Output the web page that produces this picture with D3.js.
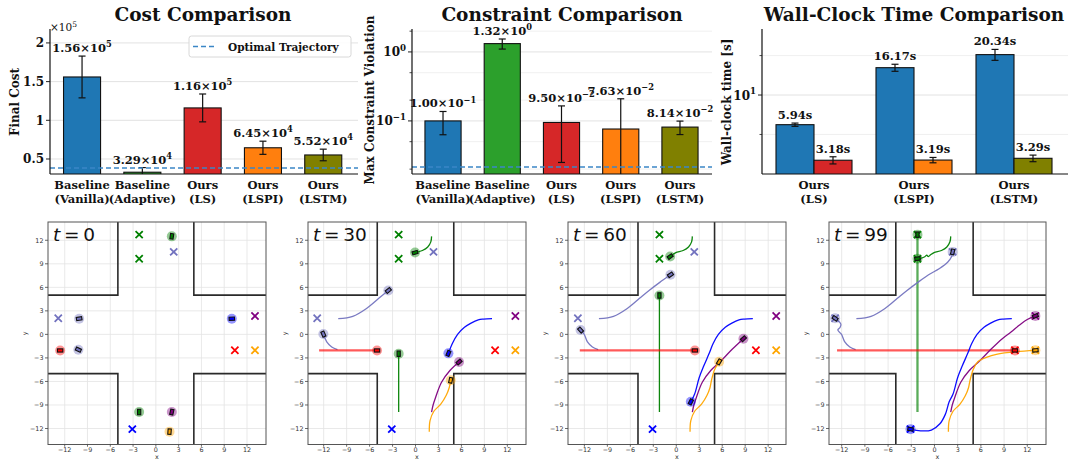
<!DOCTYPE html>
<html><head><meta charset="utf-8">
<script src="https://cdn.jsdelivr.net/npm/d3@7"></script>
<style>body{margin:0;background:#fff}svg{display:block}</style>
</head><body>
<svg id="fig" width="1070" height="461"></svg>
<script>
// ---------------- data ----------------
const methodLabels = [["Baseline","(Vanilla)"],["Baseline","(Adaptive)"],["Ours","(LS)"],["Ours","(LSPI)"],["Ours","(LSTM)"]];
const costValues = [1.56e5, 3.29e4, 1.16e5, 6.45e4, 5.52e4];
const costErrors = [2.7e4, 6.0e3, 1.8e4, 8.5e3, 7.5e3];
const costOptimal = 3.85e4;
const costTicks = [5e4, 1e5, 1.5e5, 2e5];
const costTickLabels = ["0.5", "1", "1.5", "2"];

const violationValues = [1.00e-1, 1.32e0, 9.50e-2, 7.63e-2, 8.14e-2];
const violationErrors = [0.037, 0.22, 0.07, 0.133, 0.018];
const violationOptimal = 0.0215;
const violationMajorTicks = [0.1, 1];
const violationMinorTicks = [0.02, 0.05, 0.2, 0.5, 2];

const timeGroups = [["Ours","(LS)"],["Ours","(LSPI)"],["Ours","(LSTM)"]];
const timeFull = [5.94, 16.17, 20.34];
const timeFullErr = [0.17, 1.0, 1.95];
const timeFast = [3.18, 3.19, 3.29];
const timeFastErr = [0.2, 0.15, 0.19];
const timeMajorTicks = [10];
const timeMinorTicks = [5, 20];

const methodColors = ["#1f77b4", "#2ca02c", "#d62728", "#ff7f0e", "#808000"];
const fastColors = ["#d62728", "#ff7f0e", "#808000"];

// intersection scenario
const snapshotTimes = [0, 30, 60, 99];
const laneWalls = [
  [[-16, 5], [-5, 5], [-5, 16]],
  [[16, 5], [5, 5], [5, 16]],
  [[-16, -5], [-5, -5], [-5, -16]],
  [[16, -5], [5, -5], [5, -16]]
];
const gridTicks = [-12, -9, -6, -3, 0, 3, 6, 9, 12];
const agentGoals = [[-2.2, 9.65], [-2.2, 12.72], [2.35, 10.52], [-12.85, 2.05],
                    [10.4, -2.03], [-3.1, -12.08], [13.05, 2.35], [13.05, -2.03]];
const agentPaths = [
  [[2.1,12.5],[2.0,11.8],[1.6,11.15],[0.9,10.7],[-0.06,10.43],[-0.5,10.15],[-0.8,9.92],[-1.0,10.1],[-1.25,9.9],[-1.7,9.72],[-2.2,9.65]],
  [[-2.2,-9.9],[-2.2,-2.46],[-2.2,4.96],[-2.2,12.72]],
  [[-10.1,2.0],[-8.2,2.3],[-6.4,3.3],[-4.8,4.6],[-3.55,5.6],[-2.2,6.6],[-0.76,7.6],[0.65,8.4],[1.7,9.2],[2.2,9.9],[2.35,10.52]],
  [[-10.2,-1.95],[-10.95,-1.6],[-11.6,-0.95],[-12.04,0.04],[-12.5,0.55],[-12.2,0.9],[-12.1,1.3],[-12.5,1.8],[-12.85,2.05]],
  [[-12.6,-2.05],[-5.03,-2.05],[2.43,-2.05],[10.4,-2.05]],
  [[10.0,2.0],[8.9,1.95],[8.2,1.85],[7.2,1.4],[6.4,0.9],[5.5,0.0],[4.8,-1.2],[4.3,-2.42],[3.6,-4.0],[3.0,-5.5],[2.4,-7.6],[1.9,-8.6],[1.4,-10.2],[0.7,-11.4],[-0.4,-12.2],[-1.8,-12.3],[-3.1,-12.08]],
  [[2.1,-9.9],[2.3,-9.0],[2.6,-8.1],[3.4,-6.1],[4.5,-4.6],[5.69,-3.52],[7.3,-1.9],[8.77,-0.55],[9.9,0.3],[11.0,1.2],[12.0,1.9],[13.05,2.35]],
  [[1.8,-12.4],[1.9,-11.0],[2.4,-9.8],[3.3,-8.9],[4.0,-7.8],[4.4,-6.8],[4.6,-5.85],[5.0,-4.5],[5.6,-3.5],[6.8,-2.9],[8.0,-2.55],[10.5,-2.2],[13.05,-2.03]]
];
// path index of each agent at each snapshot time
const agentSnapshotIndex = [
  [0, 4, 6, 10], [0, 1, 2, 3], [0, 4, 6, 10], [0, 3, 4, 8],
  [0, 1, 2, 3], [0, 7, 11, 16], [0, 5, 7, 11], [0, 6, 8, 12]
];
const agentColors = ["green", "green", "#7373bf", "#7373bf", "red", "blue", "purple", "orange"];

// ---------------- drawing ----------------
const svg = d3.select("#fig");
const SERIF = "'DejaVu Serif', serif";
const SANS = "'DejaVu Sans', sans-serif";
const MINUS = "\u2212";

function supText(sel, base, exp, size) {
  sel.append("tspan").text(base);
  sel.append("tspan").attr("dy", -size * 0.42).attr("font-size", size * 0.72).text(exp);
}
function sci(v) {
  let e = Math.floor(Math.log10(v) + 1e-9);
  let m = v / Math.pow(10, e);
  if (+m.toFixed(2) >= 10) { e += 1; m = v / Math.pow(10, e); }
  return { m: m.toFixed(2), e: (e < 0 ? MINUS + (-e) : String(e)) };
}

let clipId = 0;
function addClip(box) {
  const id = "clip" + (clipId++);
  svg.append("clipPath").attr("id", id).append("rect")
    .attr("x", box.left).attr("y", box.top)
    .attr("width", box.right - box.left).attr("height", box.bottom - box.top);
  return "url(#" + id + ")";
}

function panelFrame(box, y, major, minor, labelFn) {
  const g = svg.append("g");
  g.selectAll(".gmin").data(minor).join("line")
    .attr("x1", box.left).attr("x2", box.right)
    .attr("y1", d => y(d)).attr("y2", d => y(d))
    .attr("stroke", "#ececec").attr("stroke-width", 0.8);
  g.selectAll(".gmaj").data(major).join("line")
    .attr("x1", box.left).attr("x2", box.right)
    .attr("y1", d => y(d)).attr("y2", d => y(d))
    .attr("stroke", "#e2e2e2").attr("stroke-width", 1);
  g.selectAll(".tmaj").data(major).join("line")
    .attr("x1", box.left - 4).attr("x2", box.left)
    .attr("y1", d => y(d)).attr("y2", d => y(d)).attr("stroke", "#222").attr("stroke-width", 1);
  g.selectAll(".tmin").data(minor).join("line")
    .attr("x1", box.left - 2.5).attr("x2", box.left)
    .attr("y1", d => y(d)).attr("y2", d => y(d)).attr("stroke", "#222").attr("stroke-width", 0.8);
  major.forEach((d, i) => {
    const t = g.append("text").attr("x", box.left - 6).attr("y", y(d) + 4.5)
      .attr("text-anchor", "end").attr("font-family", SERIF).attr("font-weight", "bold")
      .attr("font-size", 12).attr("fill", "#111");
    labelFn(t, d, i);
  });
  return g;
}

function spines(box) {
  svg.append("line").attr("x1", box.left).attr("x2", box.left).attr("y1", box.top).attr("y2", box.bottom)
    .attr("stroke", "#111").attr("stroke-width", 1.2);
  svg.append("line").attr("x1", box.left).attr("x2", box.right).attr("y1", box.bottom).attr("y2", box.bottom)
    .attr("stroke", "#111").attr("stroke-width", 1.2);
}

function titleText(x, text) {
  svg.append("text").attr("x", x).attr("y", 21).attr("text-anchor", "middle")
    .attr("font-family", SERIF).attr("font-weight", "bold").attr("font-size", 18.5)
    .attr("fill", "#111").text(text);
}
function yLabel(x, yc, text) {
  svg.append("text").attr("transform", `translate(${x},${yc}) rotate(-90)`)
    .attr("text-anchor", "middle").attr("font-family", SERIF).attr("font-weight", "bold")
    .attr("font-size", 12).attr("fill", "#111").text(text);
}
function catLabels(centers, labels, box) {
  labels.forEach((lines, i) => {
    const t = svg.append("text").attr("text-anchor", "middle").attr("font-family", SERIF)
      .attr("font-weight", "bold").attr("font-size", 11.5).attr("fill", "#111");
    t.append("tspan").attr("x", centers[i]).attr("y", box.bottom + 15).text(lines[0]);
    t.append("tspan").attr("x", centers[i]).attr("y", box.bottom + 29).text(lines[1]);
  });
}
function bars(g, xs, w, y, values, colors, box) {
  g.selectAll(null).data(values).join("rect")
    .attr("x", (d, i) => xs[i]).attr("width", w)
    .attr("y", d => y(d)).attr("height", d => Math.max(0, box.bottom + 2 - y(d)))
    .attr("fill", (d, i) => colors[i]).attr("stroke", "#111").attr("stroke-width", 1.1);
}
function errBars(g, cx, y, values, errs, box) {
  values.forEach((v, i) => {
    const lo = v - errs[i] > 0 ? y(v - errs[i]) : box.bottom + 5;
    const hi = y(v + errs[i]);
    g.append("line").attr("x1", cx[i]).attr("x2", cx[i]).attr("y1", lo).attr("y2", hi)
      .attr("stroke", "#111").attr("stroke-width", 1.2);
    [lo, hi].forEach(yy => g.append("line").attr("x1", cx[i] - 3.5).attr("x2", cx[i] + 3.5)
      .attr("y1", yy).attr("y2", yy).attr("stroke", "#111").attr("stroke-width", 1.2));
  });
}
function valueLabel(x, yTop, fill) {
  const t = svg.append("text").attr("x", x).attr("y", yTop - 4).attr("text-anchor", "middle")
    .attr("font-family", SERIF).attr("font-weight", "bold").attr("font-size", 11.5).attr("fill", "#111");
  fill(t);
}

// ---- Panel 1: cost ----
{
  const box = { left: 50, right: 358, top: 29, bottom: 174 };
  const x = d3.scaleBand().domain(d3.range(costValues.length)).range([51.9, 353.4])
    .paddingInner(0.386).paddingOuter(0.193);
  const y = d3.scaleLinear().domain([30600, 218000]).range([box.bottom, box.top]);
  panelFrame(box, y, costTicks, [], (t, d, i) => t.text(costTickLabels[i]));
  const clip = addClip(box);
  const g = svg.append("g").attr("clip-path", clip);
  const xs = costValues.map((d, i) => x(i));
  const cx = xs.map(v => v + x.bandwidth() / 2);
  bars(g, xs, x.bandwidth(), y, costValues, methodColors, box);
  errBars(g, cx, y, costValues, costErrors, box);
  g.append("line").attr("x1", box.left).attr("x2", box.right)
    .attr("y1", y(costOptimal)).attr("y2", y(costOptimal))
    .attr("stroke", "#3b86c6").attr("stroke-width", 1.5).attr("stroke-dasharray", "5,3");
  spines(box);
  costValues.forEach((v, i) => {
    const s = sci(v);
    valueLabel(cx[i], y(v + costErrors[i]), t => supText(t, s.m + "×10", s.e, 11.5));
  });
  const off = svg.append("text").attr("x", 50).attr("y", 31).attr("font-family", SERIF)
    .attr("font-size", 10.5).attr("fill", "#111");
  supText(off, "×10", "5", 10.5);
  const lg = svg.append("g");
  lg.append("rect").attr("x", 189).attr("y", 36).attr("width", 162).attr("height", 21).attr("rx", 2.5)
    .attr("fill", "#fff").attr("fill-opacity", 0.85).attr("stroke", "#d8d8d8");
  lg.append("line").attr("x1", 193).attr("x2", 217).attr("y1", 46.5).attr("y2", 46.5)
    .attr("stroke", "#3b86c6").attr("stroke-width", 1.5).attr("stroke-dasharray", "5,3");
  lg.append("text").attr("x", 228).attr("y", 50.5).attr("font-family", SERIF).attr("font-weight", "bold")
    .attr("font-size", 10.5).attr("fill", "#111").text("Optimal Trajectory");
  catLabels(cx, methodLabels, box);
  titleText(203, "Cost Comparison");
  yLabel(19, 102, "Final Cost");
}

// ---- Panel 2: constraint violation ----
{
  const box = { left: 412, right: 712, top: 29, bottom: 174 };
  const x = d3.scaleBand().domain(d3.range(violationValues.length)).range([413.4, 709.6])
    .paddingInner(0.39).paddingOuter(0.195);
  const y = d3.scaleLog().domain([0.017, 2.15]).range([box.bottom, box.top]);
  panelFrame(box, y, violationMajorTicks, violationMinorTicks, (t, d) => {
    const e = Math.round(Math.log10(d));
    supText(t, "10", e < 0 ? MINUS + (-e) : String(e), 12);
  });
  const clip = addClip(box);
  const g = svg.append("g").attr("clip-path", clip);
  const xs = violationValues.map((d, i) => x(i));
  const cx = xs.map(v => v + x.bandwidth() / 2);
  bars(g, xs, x.bandwidth(), y, violationValues, methodColors, box);
  errBars(g, cx, y, violationValues, violationErrors, box);
  svg.append("line").attr("x1", box.left).attr("x2", box.right)
    .attr("y1", y(violationOptimal)).attr("y2", y(violationOptimal))
    .attr("stroke", "#3b86c6").attr("stroke-width", 1.5).attr("stroke-dasharray", "5,3");
  spines(box);
  violationValues.forEach((v, i) => {
    const s = sci(v);
    valueLabel(cx[i], y(v + violationErrors[i]), t => supText(t, s.m + "×10", s.e, 11.5));
  });
  catLabels(cx, methodLabels, box);
  titleText(562, "Constraint Comparison");
  yLabel(374, 100, "Max Constraint Violation");
}

// ---- Panel 3: wall-clock time ----
{
  const box = { left: 762, right: 1068, top: 29, bottom: 174 };
  const x = d3.scaleBand().domain(d3.range(timeGroups.length)).range([764, 1064])
    .paddingInner(0.24).paddingOuter(0.12);
  const y = d3.scaleLog().domain([2.497, 31.9]).range([box.bottom, box.top]);
  panelFrame(box, y, timeMajorTicks, timeMinorTicks, (t, d) => {
    supText(t, "10", String(Math.round(Math.log10(d))), 12);
  });
  const clip = addClip(box);
  const g = svg.append("g").attr("clip-path", clip);
  const half = x.bandwidth() / 2;
  const xsFull = timeFull.map((d, i) => x(i));
  const xsFast = timeFast.map((d, i) => x(i) + half);
  const blues = timeFull.map(() => methodColors[0]);
  bars(g, xsFull, half, y, timeFull, blues, box);
  bars(g, xsFast, half, y, timeFast, fastColors, box);
  const cFull = xsFull.map(v => v + half / 2), cFast = xsFast.map(v => v + half / 2);
  errBars(g, cFull, y, timeFull, timeFullErr, box);
  errBars(g, cFast, y, timeFast, timeFastErr, box);
  spines(box);
  timeFull.forEach((v, i) => valueLabel(cFull[i], y(v + timeFullErr[i]), t => t.text(v.toFixed(2) + "s")));
  timeFast.forEach((v, i) => valueLabel(cFast[i], y(v + timeFastErr[i]), t => t.text(v.toFixed(2) + "s")));
  catLabels(timeGroups.map((d, i) => x(i) + half), timeGroups, box);
  titleText(914, "Wall-Clock Time Comparison");
  yLabel(731, 102, "Wall-clock time [s]");
}

// ---- Bottom row: intersection snapshots ----
const snapBoxes = [
  { left: 48, right: 266, xlim: [-14.2, 14.5] },
  { left: 308, right: 526, xlim: [-14.05, 14.44] },
  { left: 568, right: 786, xlim: [-14.14, 14.33] },
  { left: 829, right: 1046, xlim: [-13.64, 14.42] }
];
const snapTop = 222, snapBottom = 444.5;

snapBoxes.forEach((b, k) => {
  const box = { left: b.left, right: b.right, top: snapTop, bottom: snapBottom };
  const x = d3.scaleLinear().domain(b.xlim).range([b.left, b.right]);
  const y = d3.scaleLinear().domain([-14.04, 14.33]).range([snapBottom, snapTop]);
  const clip = addClip(box);
  const g = svg.append("g").attr("clip-path", clip);
  // grid
  g.selectAll(null).data(gridTicks).join("line")
    .attr("x1", d => x(d)).attr("x2", d => x(d)).attr("y1", snapTop).attr("y2", snapBottom)
    .attr("stroke", "#e3e3e3").attr("stroke-width", 0.8);
  g.selectAll(null).data(gridTicks).join("line")
    .attr("y1", d => y(d)).attr("y2", d => y(d)).attr("x1", b.left).attr("x2", b.right)
    .attr("stroke", "#e3e3e3").attr("stroke-width", 0.8);
  // lane boundaries
  const line = d3.line().x(d => x(d[0])).y(d => y(d[1]));
  g.selectAll(null).data(laneWalls).join("path").attr("d", line)
    .attr("fill", "none").attr("stroke", "#2a2a2a").attr("stroke-width", 1.6);
  // driven trails
  const smooth = d3.line().x(d => x(d[0])).y(d => y(d[1])).curve(d3.curveCatmullRom.alpha(0.5));
  if (k > 0) {
    agentPaths.forEach((p, a) => {
      const idx = agentSnapshotIndex[a][k];
      const pts = p.slice(0, idx + 1);
      const wide = agentColors[a] === "red" || (a === 1 && k === snapshotTimes.length - 1);
      g.append("path").attr("d", smooth(pts)).attr("fill", "none")
        .attr("stroke", agentColors[a])
        .attr("stroke-width", wide ? 2.3 : 1.3)
        .attr("stroke-opacity", wide ? 0.65 : 0.95);
    });
  }
  // goals
  agentGoals.forEach((gp, a) => {
    const cx = x(gp[0]), cy = y(gp[1]), s = 3.6;
    g.append("path").attr("d", `M${cx - s},${cy - s}L${cx + s},${cy + s}M${cx - s},${cy + s}L${cx + s},${cy - s}`)
      .attr("stroke", agentColors[a]).attr("stroke-width", 1.8).attr("fill", "none");
  });
  // vehicles
  agentPaths.forEach((p, a) => {
    const idx = agentSnapshotIndex[a][k];
    const cur = p[idx];
    const prev = idx > 0 ? p[idx - 1] : cur;
    const next = idx > 0 ? cur : p[1];
    const ang = Math.atan2(-(next[1] - prev[1]), next[0] - prev[0]) * 180 / Math.PI;
    const cx = x(cur[0]), cy = y(cur[1]);
    g.append("circle").attr("cx", cx).attr("cy", cy).attr("r", 5)
      .attr("fill", agentColors[a]).attr("fill-opacity", 0.42);
    g.append("rect").attr("x", -2.7).attr("y", -1.6).attr("width", 5.4).attr("height", 3.2)
      .attr("transform", `translate(${cx},${cy}) rotate(${ang})`)
      .attr("fill", agentColors[a]).attr("stroke", "#111").attr("stroke-width", 1.1);
  });
  // frame
  svg.append("rect").attr("x", b.left).attr("y", snapTop).attr("width", b.right - b.left)
    .attr("height", snapBottom - snapTop).attr("fill", "none").attr("stroke", "#555").attr("stroke-width", 1);
  // ticks
  const fmt = d => (d < 0 ? MINUS + (-d) : String(d));
  gridTicks.forEach(d => {
    svg.append("line").attr("x1", x(d)).attr("x2", x(d)).attr("y1", snapBottom).attr("y2", snapBottom + 2.2)
      .attr("stroke", "#444").attr("stroke-width", 0.8);
    svg.append("text").attr("x", x(d)).attr("y", snapBottom + 7.4).attr("text-anchor", "middle")
      .attr("font-family", SANS).attr("font-size", 6.4).attr("fill", "#333").text(fmt(d));
    svg.append("line").attr("x1", b.left - 3).attr("x2", b.left).attr("y1", y(d)).attr("y2", y(d))
      .attr("stroke", "#444").attr("stroke-width", 0.8);
    svg.append("text").attr("x", b.left - 4.5).attr("y", y(d) + 2.3).attr("text-anchor", "end")
      .attr("font-family", SANS).attr("font-size", 6.4).attr("fill", "#333").text(fmt(d));
  });
  svg.append("text").attr("x", (b.left + b.right) / 2).attr("y", 459.4).attr("text-anchor", "middle")
    .attr("font-family", SANS).attr("font-size", 6.4).attr("fill", "#333").text("x");
  svg.append("text").attr("transform", `translate(${b.left - 21},${(snapTop + snapBottom) / 2}) rotate(-90)`)
    .attr("text-anchor", "middle").attr("font-family", SANS).attr("font-size", 6.4).attr("fill", "#333").text("y");
  // time label
  const tl = svg.append("text").attr("x", b.left + 5).attr("y", snapTop + 19)
    .attr("font-family", SANS).attr("font-size", 18.5).attr("fill", "#111");
  tl.append("tspan").attr("font-style", "italic").text("t");
  tl.append("tspan").text("\u2009=\u2009" + snapshotTimes[k]);
});
</script>
</body></html>
